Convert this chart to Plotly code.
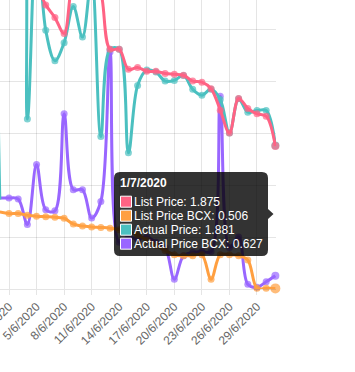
import plotly.graph_objects as go

# ---------------- data ----------------
dates = ["2020-06-01", "2020-06-02", "2020-06-03", "2020-06-04", "2020-06-05",
         "2020-06-06", "2020-06-07", "2020-06-08", "2020-06-09", "2020-06-10",
         "2020-06-11", "2020-06-12", "2020-06-13", "2020-06-14", "2020-06-15",
         "2020-06-16", "2020-06-17", "2020-06-18", "2020-06-19", "2020-06-20",
         "2020-06-21", "2020-06-22", "2020-06-23", "2020-06-24", "2020-06-25",
         "2020-06-26", "2020-06-27", "2020-06-28", "2020-06-29", "2020-06-30",
         "2020-07-01"]
date_labels_last = "1/7/2020"

list_price = [3.55, 3.55, 3.5, 3.45, 3.4, 3.232, 3.11, 2.956, 3.48, 3.6,
              3.55, 3.355, 2.805, 2.805, 2.612, 2.631, 2.593, 2.593, 2.573, 2.564,
              2.555, 2.499, 2.489, 2.426, 2.22, 2.0, 2.332, 2.236, 2.185, 2.162,
              1.875]
list_price_bcx = [1.24, 1.225, 1.225, 1.21, 1.2, 1.195, 1.19, 1.18, 1.125, 1.105,
                  1.097, 1.092, 1.085, 1.07, 1.05, 1.02, 0.97, 0.92, 0.87, 0.83,
                  0.82, 0.82, 0.83, 0.594, 0.83, 0.83, 0.82, 0.78, 0.507, 0.507,
                  0.506]
actual_price = [1.36, 4.6, 4.6, 2.135, 3.95, 2.988, 2.695, 2.869, 3.216, 2.923,
                3.5, 1.966, 2.805, 2.805, 1.809, 2.458, 2.605, 2.586, 2.499, 2.506,
                2.554, 2.42, 2.364, 2.42, 2.322, 2.0, 2.33, 2.2, 2.216, 2.216,
                1.881]
actual_price_bcx = [1.375, 1.375, 1.365, 1.12, 1.696, 1.262, 1.252, 2.184, 1.455, 1.455,
                    1.182, 1.342, 2.78, 0.95, 1.0, 0.98, 1.0, 0.95, 0.9, 0.594,
                    0.82, 0.85, 0.86, 0.86, 2.354, 0.9, 1.0, 0.545, 0.516, 0.57,
                    0.627]

series_names = ["List Price", "List Price BCX", "Actual Price", "Actual Price BCX"]
series_values = [list_price, list_price_bcx, actual_price, actual_price_bcx]
series_colors = ["#ff6384", "#ff9f40", "#4bc0c0", "#9966ff"]

# ---------------- figure ----------------
W, H = 355, 372
ML, MR, MT, MB = 0, 79, 0, 83
PW, PH = W - ML - MR, H - MT - MB
FONT = "Liberation Sans, Arial, Helvetica, sans-serif"
GRID = "rgba(0,0,0,0.1)"

fig = go.Figure()
n = len(dates)
# Chart.js draws dataset 0 on top -> add in reverse order
for name, vals, col in reversed(list(zip(series_names, series_values, series_colors))):
    sizes = [7] * (n - 1) + [10 if name == "List Price BCX" else 8]
    fig.add_trace(go.Scatter(
        x=dates, y=vals, name=name, mode="lines+markers",
        line=dict(color=col, width=3, shape="spline", smoothing=1.0),
        marker=dict(color=col, size=sizes, line=dict(width=0)),
        cliponaxis=False, showlegend=False, hoverinfo="skip"))

fig.update_layout(
    width=W, height=H,
    margin=dict(l=ML, r=MR, t=MT, b=MB, pad=0),
    paper_bgcolor="white", plot_bgcolor="white",
    hovermode=False,
    font=dict(family=FONT, size=12, color="#666"),
    xaxis=dict(
        type="date",
        range=["2020-06-01 00:29", "2020-07-01 01:40"],
        tick0="2020-06-02", dtick=3 * 86400000,
        tickformat="%-d/%-m/%Y", tickangle=-45,
        ticklabeloverflow="allow",
        tickfont=dict(family=FONT, size=12, color="#666"),
        showgrid=True, gridcolor=GRID, gridwidth=1,
        ticks="outside", ticklen=5, tickcolor=GRID,
        showline=True, linecolor=GRID, linewidth=1,
        zeroline=False, automargin=False,
    ),
    yaxis=dict(
        range=[0.5, 3.279], dtick=0.5, tick0=0,
        showticklabels=False, showgrid=True, gridcolor=GRID, gridwidth=1,
        zeroline=False, showline=False, ticks="", automargin=False,
    ),
)

# ---------------- tooltip (Chart.js style) ----------------
def px(x):
    return x / PW

def py(y):
    return 1 - y / PH

x0, x1, y0, y1, r = 114, 268, 172, 256, 6
cy = (y0 + y1) / 2
path = (f"M {px(x0 + r)},{py(y0)} L {px(x1 - r)},{py(y0)} "
        f"Q {px(x1)},{py(y0)} {px(x1)},{py(y0 + r)} "
        f"L {px(x1)},{py(cy - 5)} L {px(x1 + 5.5)},{py(cy)} L {px(x1)},{py(cy + 5)} "
        f"L {px(x1)},{py(y1 - r)} Q {px(x1)},{py(y1)} {px(x1 - r)},{py(y1)} "
        f"L {px(x0 + r)},{py(y1)} Q {px(x0)},{py(y1)} {px(x0)},{py(y1 - r)} "
        f"L {px(x0)},{py(y0 + r)} Q {px(x0)},{py(y0)} {px(x0 + r)},{py(y0)} Z")
shapes = [dict(type="path", path=path, xref="paper", yref="paper",
               fillcolor="rgba(0,0,0,0.8)", line=dict(width=0), layer="above")]
annotations = [dict(text="<b>" + date_labels_last + "</b>", x=px(120), y=py(183),
                    xref="paper", yref="paper", xanchor="left", yanchor="middle",
                    showarrow=False, borderpad=0, borderwidth=0,
                    font=dict(family=FONT, size=12, color="white"))]
line_y = [201.7, 215.7, 229.7, 243.7]
for name, vals, col, ly in zip(series_names, series_values, series_colors, line_y):
    shapes.append(dict(type="rect", xref="paper", yref="paper",
                       x0=px(120.5), x1=px(131.5), y0=py(ly - 5.5), y1=py(ly + 5.5),
                       fillcolor=col, line=dict(color="white", width=1), layer="above"))
    annotations.append(dict(text=f"{name}: {vals[-1]}", x=px(134), y=py(ly),
                            xref="paper", yref="paper", xanchor="left", yanchor="middle",
                            showarrow=False, borderpad=0, borderwidth=0,
                            font=dict(family=FONT, size=12, color="white")))
fig.update_layout(shapes=shapes, annotations=annotations)

fig.write_html("out.html", config={"displayModeBar": False},
               post_script="document.body.style.margin='0';document.body.style.padding='0';")
